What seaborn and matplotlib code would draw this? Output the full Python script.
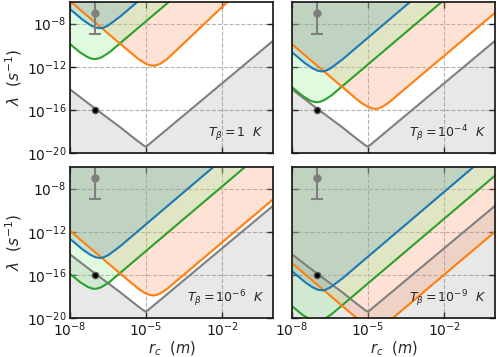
import numpy as np
import matplotlib
matplotlib.use("Agg")
import matplotlib.pyplot as plt
import seaborn as sns
from matplotlib.ticker import NullLocator

# log10 values (rc in m, lambda in 1/s)
temp_labels = [r"$T_\beta=1\ \ K$", r"$T_\beta=10^{-4}\ \ K$",
               r"$T_\beta=10^{-6}\ \ K$", r"$T_\beta=10^{-9}\ \ K$"]

gray_log_rc = [-8, -7, -6, -5.6, -5.3, -5.1, -5.0, -4.9, 0]
gray_log_lam = [-14.1, -15.9, -17.65, -18.4, -18.95, -19.3, -19.42, -19.22, -9.6]

blue_log_rc = [-8, -7.5, -7.2, -7.0, -6.84, -6.7, -6.5, -6.2, -6.0, 0]
blue_T1 = [-6.66, -7.65, -8.14, -8.36, -8.43, -8.4, -8.18, -7.66, -7.3, 4.7]
blue_T4 = [-10.66, -11.65, -12.14, -12.36, -12.43, -12.4, -12.18, -11.66, -11.3, 0.7]
blue_T6 = [-12.66, -13.65, -14.14, -14.36, -14.43, -14.4, -14.18, -13.66, -13.3, -1.3]
blue_T9 = [-15.66, -16.65, -17.14, -17.36, -17.43, -17.4, -17.18, -16.66, -16.3, -4.3]

orange_log_rc = [-8, -6, -5.3, -5.0, -4.85, -4.73, -4.6, -4.45, -4.2, 0]
orange_T1 = [-5.92, -9.92, -11.3, -11.74, -11.86, -11.91, -11.87, -11.73, -11.35, -2.0]
orange_T4 = [-9.92, -13.92, -15.3, -15.74, -15.86, -15.91, -15.87, -15.73, -15.35, -7.0]
orange_T6 = [-11.92, -15.92, -17.3, -17.74, -17.86, -17.91, -17.87, -17.73, -17.35, -9.0]
orange_T9 = [-14.92, -18.92, -20.3, -20.74, -20.86, -20.91, -20.87, -20.73, -20.35, -12.0]

green_log_rc = [-8, -7.6, -7.3, -7.15, -7.03, -6.9, -6.75, -6.45, 0]
green_T1 = [-9.9, -10.68, -11.12, -11.25, -11.3, -11.25, -11.12, -10.67, 2.2]
green_T4 = [-13.9, -14.68, -15.12, -15.25, -15.3, -15.25, -15.12, -14.67, -1.8]
green_T6 = [-15.9, -16.68, -17.12, -17.25, -17.3, -17.25, -17.12, -16.67, -3.8]
green_T9 = [-18.9, -19.68, -20.12, -20.25, -20.3, -20.25, -20.12, -19.67, -6.8]

# experimental points
adler_rc, adler_lam, adler_low, adler_high = 1e-7, 1e-7, 1e-9, 1e-5
grw_rc, grw_lam = 1e-7, 1e-16

sns.set_theme(style="ticks", rc={"axes.edgecolor": "0.1", "xtick.color": "0.1",
                                 "ytick.color": "0.1"})
plt.rcParams["font.family"] = ["DejaVu Sans"]

fig, axes = plt.subplots(2, 2, figsize=(4.98, 3.57), dpi=100, sharex=True, sharey=True)
fig.subplots_adjust(left=0.1406, right=0.994, bottom=0.1092, top=0.9944,
                    wspace=0.0936, hspace=0.0927)

panels = [
    (axes[0, 0], temp_labels[0], blue_T1, orange_T1, green_T1),
    (axes[0, 1], temp_labels[1], blue_T4, orange_T4, green_T4),
    (axes[1, 0], temp_labels[2], blue_T6, orange_T6, green_T6),
    (axes[1, 1], temp_labels[3], blue_T9, orange_T9, green_T9),
]

to_lin = lambda v: 10.0 ** np.asarray(v, dtype=float)

for ax, label, blue, orange, green in panels:
    ax.set_xscale("log")
    ax.set_yscale("log")

    # excluded / forbidden regions
    ax.fill_between(to_lin(gray_log_rc), 1e-30, to_lin(gray_log_lam),
                    color="gray", alpha=0.18, lw=0)
    ax.fill_between(to_lin(orange_log_rc), to_lin(orange), 1e5,
                    color="lightsalmon", alpha=0.3, lw=0)
    ax.fill_between(to_lin(green_log_rc), to_lin(green), 1e5,
                    color="lightgreen", alpha=0.27, lw=0)
    ax.fill_between(to_lin(blue_log_rc), to_lin(blue), 1e5,
                    color="tab:blue", alpha=0.16, lw=0)

    sns.lineplot(x=to_lin(gray_log_rc), y=to_lin(gray_log_lam), ax=ax, color="tab:gray", lw=1.5)
    sns.lineplot(x=to_lin(green_log_rc), y=to_lin(green), ax=ax, color="tab:green", lw=1.5)
    sns.lineplot(x=to_lin(orange_log_rc), y=to_lin(orange), ax=ax, color="tab:orange", lw=1.5)
    sns.lineplot(x=to_lin(blue_log_rc), y=to_lin(blue), ax=ax, color="tab:blue", lw=1.5)

    ax.errorbar([adler_rc], [adler_lam],
                yerr=[[adler_lam - adler_low], [adler_high - adler_lam]],
                fmt="o", color="tab:gray", ms=5, lw=1.5, capsize=4.5, capthick=1.5)
    ax.plot([grw_rc], [grw_lam], "o", color="black", mec="0.35", ms=4.5, zorder=5)

    ax.text(0.955, 0.13, label, transform=ax.transAxes, ha="right", va="center", fontsize=9)

    ax.set_xlim(1e-8, 1)
    ax.set_ylim(1e-20, 1e-6)
    ax.set_xticks([1e-8, 1e-5, 1e-2])
    ax.set_yticks([1e-20, 1e-16, 1e-12, 1e-8])
    ax.xaxis.set_minor_locator(NullLocator())
    ax.yaxis.set_minor_locator(NullLocator())
    ax.tick_params(direction="in", top=True, right=True, length=4, width=1, labelsize=10)
    ax.tick_params(axis="x", pad=2)
    ax.tick_params(axis="y", pad=2.5)
    ax.grid(True, which="major", ls="--", color="0.7", lw=0.8)
    ax.set_xlabel("")
    ax.set_ylabel("")

for ax in axes[:, 0]:
    ax.set_ylabel(r"$\lambda\ \ (s^{-1})$", fontsize=11, labelpad=2)
for ax in axes[1, :]:
    ax.set_xlabel(r"$r_c\ \ (m)$", fontsize=10.5, labelpad=0)

fig.savefig("out.png", dpi=100)
